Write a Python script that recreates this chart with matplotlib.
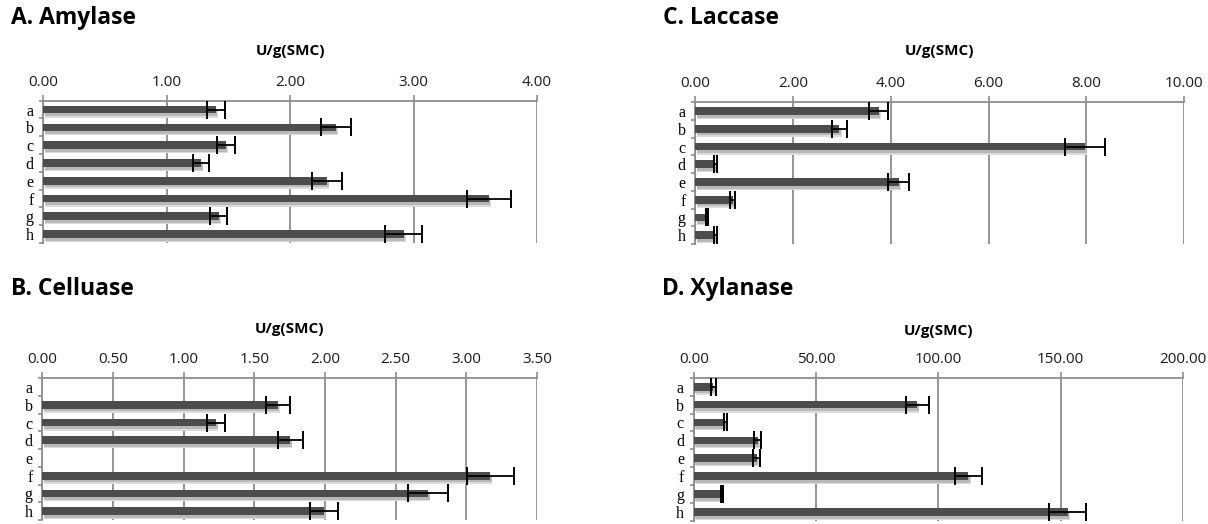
import numpy as np
import matplotlib
matplotlib.use("Agg")
import matplotlib.pyplot as plt
import matplotlib.patheffects as pe
from matplotlib.ticker import FixedLocator, FuncFormatter

categories = ["a", "b", "c", "d", "e", "f", "g", "h"]

amylase = [1.40, 2.37, 1.48, 1.28, 2.30, 3.61, 1.42, 2.92]
amylase_err = [0.07, 0.12, 0.07, 0.065, 0.12, 0.18, 0.07, 0.15]

celluase = [0.0, 1.665, 1.23, 1.755, 0.0, 3.17, 2.73, 1.995]
celluase_err = [0.0, 0.085, 0.064, 0.089, 0.0, 0.164, 0.14, 0.10]

laccase = [3.75, 2.95, 7.98, 0.41, 4.16, 0.77, 0.23, 0.41]
laccase_err = [0.195, 0.15, 0.405, 0.03, 0.21, 0.05, 0.02, 0.03]

xylanase = [8.0, 91.4, 12.9, 26.2, 25.7, 112.3, 11.6, 152.9]
xylanase_err = [1.0, 4.7, 0.7, 1.4, 1.4, 5.6, 0.5, 7.6]

titles = ["A. Amylase", "B. Celluase", "C. Laccase", "D. Xylanase"]
xlabel = "U/g(SMC)"
ticks_a = [0, 1, 2, 3, 4]
ticks_b = [0, 0.5, 1.0, 1.5, 2.0, 2.5, 3.0, 3.5]
ticks_c = [0, 2, 4, 6, 8, 10]
ticks_d = [0, 50, 100, 150, 200]

W, H = 1208, 524
fig = plt.figure(figsize=(W / 100, H / 100), dpi=100)

GRID = "#8e8e8e"
BAR = "#4c4c4c"
SANS = ["Open Sans", "DejaVu Sans"]
SERIF = ["Liberation Serif", "DejaVu Serif"]


def px_axes(left, right, top, bottom):
    return fig.add_axes([left / W, 1 - bottom / H, (right - left) / W, (bottom - top) / H])


def panel(box, title, title_xy, label_y, vals, errs, ticks):
    left, right, top, bottom = box
    ax = px_axes(left, right, top, bottom)
    y = np.arange(len(categories))
    vals = np.asarray(vals, float)
    errs = np.asarray(errs, float)
    shadow = [
        pe.SimplePatchShadow(offset=(1.5, -3.0), shadow_rgbFace="#dcdcdc", alpha=1.0),
        pe.SimplePatchShadow(offset=(1.0, -2.0), shadow_rgbFace="#b8b8b8", alpha=1.0),
        pe.Normal(),
    ]
    bars = ax.barh(y, vals, height=0.43, color=BAR, zorder=3)
    for b in bars:
        b.set_path_effects(shadow)
    m = vals > 0
    ax.errorbar(vals[m], y[m], xerr=errs[m], fmt="none", ecolor="black",
                elinewidth=1.3, capsize=6.5, capthick=1.4, zorder=4)
    ax.set_xlim(ticks[0], ticks[-1])
    ax.set_ylim(len(categories) - 0.5, -0.5)
    ax.xaxis.tick_top()
    ax.xaxis.set_major_locator(FixedLocator(ticks))
    ax.xaxis.set_major_formatter(FuncFormatter(lambda v, p: f"{v:.2f}"))
    ax.tick_params(axis="x", which="major", direction="out", length=4, width=1.2,
                   color=GRID, pad=4, labelsize=11, labelcolor="#1a1a1a")
    for lab in ax.get_xticklabels():
        lab.set_fontfamily(SANS)
    ax.set_yticks(y)
    ax.set_yticklabels(categories, fontfamily=SERIF, fontsize=11.5)
    ax.yaxis.set_minor_locator(FixedLocator(np.arange(-0.5, len(categories), 1.0)))
    ax.tick_params(axis="y", which="major", length=0, pad=7)
    ax.tick_params(axis="y", which="minor", direction="out", length=3, width=1.2, color=GRID)
    ax.grid(axis="x", color=GRID, linewidth=1.3, zorder=0)
    ax.set_axisbelow(True)
    for s in ["right", "bottom"]:
        ax.spines[s].set_visible(False)
    for s in ["top", "left"]:
        ax.spines[s].set_color(GRID)
        ax.spines[s].set_linewidth(1.3)
    fig.text(title_xy[0] / W, 1 - title_xy[1] / H, title, fontsize=16.5,
             fontweight="bold", fontfamily=SANS, ha="left", va="baseline", color="black")
    fig.text((left + right) / 2 / W, 1 - label_y / H, xlabel, fontsize=11,
             fontweight="bold", fontfamily=SANS, ha="center", va="center", color="black")
    return ax


panel((43.3, 537, 100.7, 243), titles[0], (11, 24), 51, amylase, amylase_err, ticks_a)
panel((42.3, 537, 378.3, 520), titles[1], (11, 295), 329, celluase, celluase_err, ticks_b)
panel((695.3, 1184, 102.3, 244), titles[2], (663, 24), 51, laccase, laccase_err, ticks_c)
panel((693.7, 1183, 377.7, 521), titles[3], (662, 295), 331, xylanase, xylanase_err, ticks_d)

fig.savefig("out.png", dpi=100, facecolor="white")
